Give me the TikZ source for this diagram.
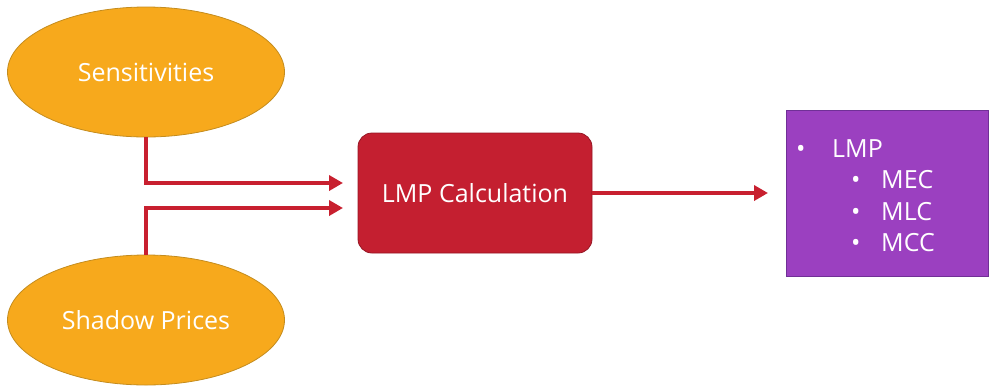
\documentclass[tikz,border=0pt]{standalone}
\usepackage{fontspec}
\setmainfont{Open Sans}
\usepackage{xcolor}
\usetikzlibrary{arrows.meta, positioning, shapes.geometric}

\definecolor{sunfill}{RGB}{247,169,28}
\definecolor{sunline}{RGB}{196,140,30}
\definecolor{calcfill}{RGB}{196,31,48}
\definecolor{calcline}{RGB}{150,22,36}
\definecolor{arrowred}{RGB}{200,32,47}
\definecolor{outfill}{RGB}{155,64,192}
\definecolor{outline}{RGB}{112,48,150}

\begin{document}
\begin{tikzpicture}[x=1bp, y=-1bp]
    % Block styles
    \tikzstyle{source} = [ellipse, draw=sunline, line width=0.8bp, fill=sunfill, text=white, minimum width=277bp, minimum height=130bp, font=\fontsize{25bp}{30bp}\selectfont]
    \tikzstyle{calcbox} = [rectangle, rounded corners=14bp, draw=calcline, line width=0.8bp, fill=calcfill, text=white, minimum width=234bp, minimum height=120bp, font=\fontsize{25bp}{30bp}\selectfont]
    \tikzstyle{resultbox} = [rectangle, draw=outline, line width=1bp, fill=outfill, minimum width=202bp, minimum height=166bp]
    \tikzstyle{listtext} = [text=white, align=left, inner sep=0pt, font=\fontsize{25bp}{31.5bp}\selectfont]
    \tikzstyle{feed} = [draw=arrowred, line width=3.6bp, -{Triangle[length=14bp, width=15bp]}]
    \useasboundingbox (0,0) rectangle (989,385);
    % Inputs
    \node[source] (sens) at (146,72) {Sensitivities};
    \node[source] (shadow) at (146,320) {Shadow Prices};
    % Calculation and result
    \node[calcbox] (calc) at (475,193) {LMP Calculation};
    \node[resultbox, anchor=north west] (result) at (786,110) {};
    \node[listtext, anchor=north west] (items) at (796,139) {%
        \makebox[36bp][l]{•}LMP\\
        \hspace{55bp}\makebox[30bp][l]{•}MEC\\
        \hspace{55bp}\makebox[30bp][l]{•}MLC\\
        \hspace{55bp}\makebox[30bp][l]{•}MCC};
    % Connections
    \coordinate (tipA) at (343,183);
    \coordinate (tipB) at (343,208);
    \draw[feed] (sens.south) |- (tipA);
    \draw[feed] (shadow.north) |- (tipB);
    \draw[feed, shorten >=18bp] (calc.east) -- (calc.east -| result.west);
\end{tikzpicture}
\end{document}
